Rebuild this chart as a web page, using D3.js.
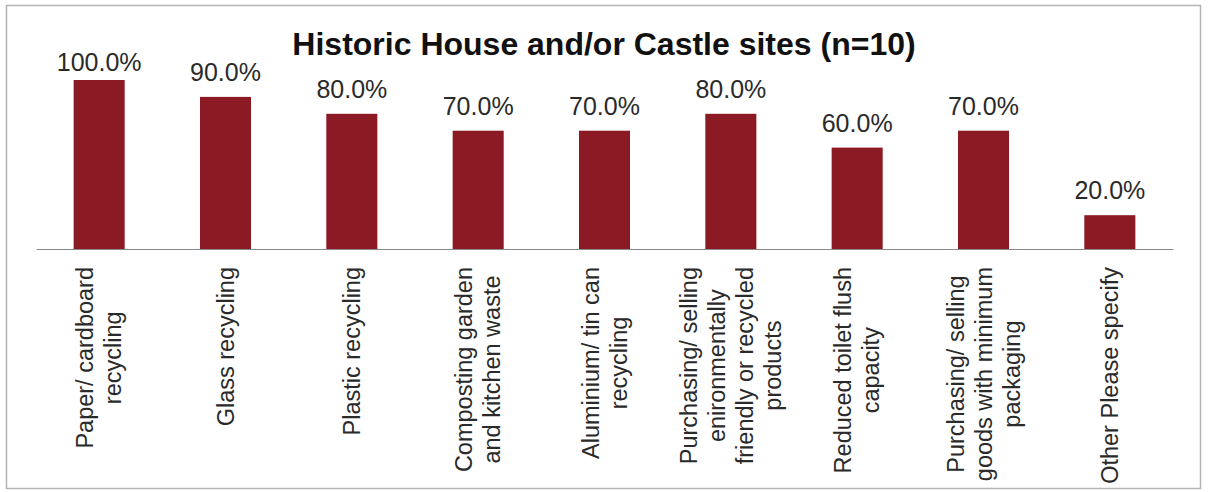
<!DOCTYPE html>
<html>
<head>
<meta charset="utf-8">
<script src="https://cdn.jsdelivr.net/npm/d3@7"></script>
<style>
  html, body { margin: 0; padding: 0; background: #fff; }
  svg { display: block; }
  text { font-family: "Liberation Sans", Arial, sans-serif; }
</style>
</head>
<body>
<svg id="chart" width="1208" height="492"></svg>
<script>
// Environmental practices at sites, share of respondents
const categories = [
  "Paper/ cardboard recycling",
  "Glass recycling",
  "Plastic recycling",
  "Composting garden and kitchen waste",
  "Aluminium/ tin can recycling",
  "Purchasing/ selling enironmentally friendly or recycled products",
  "Reduced toilet flush capacity",
  "Purchasing/ selling goods with minimum packaging",
  "Other Please specify"
];
// Line breaks used for the rotated category labels
const labelLines = [
  ["Paper/ cardboard", "recycling"],
  ["Glass recycling"],
  ["Plastic recycling"],
  ["Composting garden", "and kitchen waste"],
  ["Aluminium/ tin can", "recycling"],
  ["Purchasing/ selling", "enironmentally", "friendly or recycled", "products"],
  ["Reduced toilet flush", "capacity"],
  ["Purchasing/ selling", "goods with minimum", "packaging"],
  ["Other Please specify"]
];
const values = [1.0, 0.9, 0.8, 0.7, 0.7, 0.8, 0.6, 0.7, 0.2];
const title = "Historic House and/or Castle sites (n=10)";

const svg = d3.select("#chart");

// Outer frame
svg.append("rect")
  .attr("x", 6.5).attr("y", 5.5)
  .attr("width", 1194).attr("height", 483)
  .attr("fill", "none")
  .attr("stroke", "#b4b4b4")
  .attr("stroke-width", 1.5);

const x = d3.scaleBand()
  .domain(categories)
  .range([36, 1173])
  .paddingInner(0.596)
  .paddingOuter(0.298);

const y = d3.scaleLinear().domain([0, 1]).range([249, 80]);

// Title
svg.append("text")
  .attr("x", 604).attr("y", 55)
  .attr("text-anchor", "middle")
  .attr("font-size", 32)
  .attr("font-weight", "bold")
  .attr("fill", "#111")
  .text(title);

// Bars
svg.append("g").selectAll("rect")
  .data(values)
  .join("rect")
  .attr("x", (d, i) => x(categories[i]))
  .attr("y", d => y(d))
  .attr("width", x.bandwidth())
  .attr("height", d => y(0) - y(d))
  .attr("fill", "#8c1a24");

// Category axis line
const xAxis = d3.axisBottom(x).tickSize(0).tickFormat("");
const axisG = svg.append("g")
  .attr("transform", `translate(0,${y(0)})`)
  .call(xAxis);
axisG.select(".domain").attr("stroke", "#8a8a8a").attr("stroke-width", 1.2);

// Value labels, kept below the title area
const fmt = d3.format(".1%");
svg.append("g").selectAll("text")
  .data(values)
  .join("text")
  .attr("x", (d, i) => x(categories[i]) + x.bandwidth() / 2)
  .attr("y", d => Math.max(y(d) - 16, 71))
  .attr("text-anchor", "middle")
  .attr("font-size", 25)
  .attr("fill", "#2a2a2a")
  .text(d => fmt(d));

// Rotated, centre-aligned category labels
const lh = 28;
const labelG = svg.append("g").selectAll("g")
  .data(labelLines)
  .join("g")
  .attr("transform", (d, i) =>
    `translate(${x(categories[i]) + x.bandwidth() / 2},267) rotate(-90)`);

labelG.each(function (lines) {
  const g = d3.select(this);
  const texts = g.selectAll("text")
    .data(lines)
    .join("text")
    .attr("font-size", 23.5)
    .attr("fill", "#2a2a2a")
    .attr("text-anchor", "middle")
    .attr("dy", "0.35em")
    .attr("y", (d, j) => (j - (lines.length - 1) / 2) * lh)
    .text(d => d);
  let maxW = 0;
  texts.each(function () { maxW = Math.max(maxW, this.getComputedTextLength()); });
  texts.attr("x", -maxW / 2);
});
</script>
</body>
</html>
